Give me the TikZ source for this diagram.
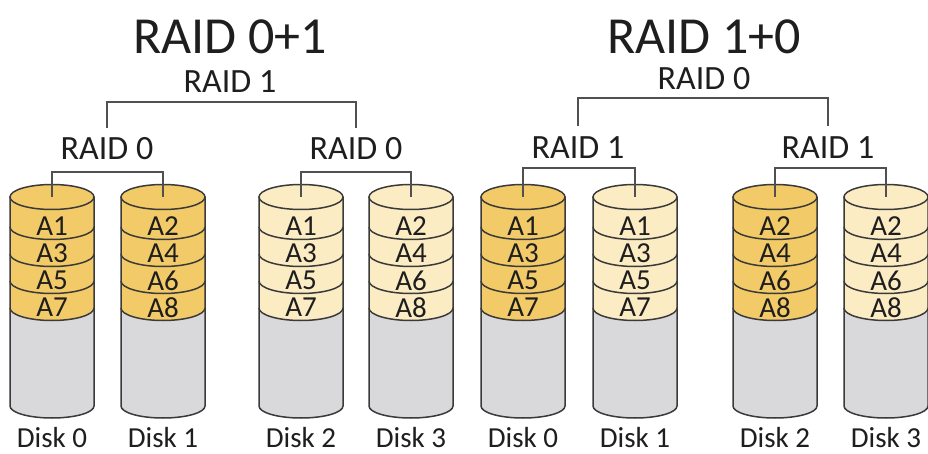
\documentclass[tikz,border=0pt]{standalone}
\usepackage{fontspec}
\setmainfont{Carlito}
\definecolor{gold}{RGB}{243,202,104}
\definecolor{cream}{RGB}{252,236,196}
\definecolor{diskgray}{RGB}{217,217,219}
\definecolor{diskline}{RGB}{58,58,58}
\definecolor{wire}{RGB}{80,80,80}
\definecolor{ink}{RGB}{30,30,30}

% one cylinder: #1 name, #2 centre x, #3 fill colour, #4 stripe labels
\newcommand\raiddisk[4]{%
  \coordinate (#1) at (#2,197);
  \fill[diskgray] (#2-42,197) -- (#2-42,406)
     arc[start angle=180,end angle=360,x radius=42pt,y radius=12pt] -- (#2+42,197) -- cycle;
  \fill[#3] (#2-42,197) -- (#2-42,308)
     arc[start angle=180,end angle=360,x radius=42pt,y radius=12.5pt] -- (#2+42,197) -- cycle;
  \filldraw[fill=#3,outline] (#2,197) ellipse[x radius=42pt,y radius=12.5pt];
  \foreach \yy in {227,254,281,308}
    \draw[outline] (#2-42,\yy) arc[start angle=180,end angle=360,x radius=42pt,y radius=12.5pt];
  \draw[outline] (#2-42,197) -- (#2-42,406)
     arc[start angle=180,end angle=360,x radius=42pt,y radius=12pt] -- (#2+42,197);
  \foreach \t [count=\i] in {#4}
    \node[cell] (#1-\i) at (#2,199.5+27*\i) {\t};
}

\begin{document}
\begin{tikzpicture}[x=1pt,y=-1pt,
  outline/.style={draw=diskline,line width=1.5pt},
  cell/.style={inner sep=0pt,text=ink,font=\fontsize{29}{30}\selectfont},
  title/.style={inner sep=0pt,text=ink,font=\fontsize{52}{56}\selectfont},
  level/.style={inner sep=0pt,text=ink,font=\fontsize{34}{36}\selectfont},
  disklabel/.style={inner sep=0pt,text=ink,font=\fontsize{29}{31}\selectfont},
  bracket/.style={draw=wire,line width=1.5pt}]
\useasboundingbox (0,0) rectangle (928,454);
\fill[white] (0,0) rectangle (928,454);

% ---------- RAID 0+1 ----------
\node[title] (t01) at (230,37) {RAID 0+1};
\node[level] (l01top) at (230,82) {RAID 1};
\node[level] (l01a) at (107,149) {RAID 0};
\node[level] (l01b) at (356,149) {RAID 0};

\raiddisk{a0}{52}{gold}{A1,A3,A5,A7}
\raiddisk{a1}{163}{gold}{A2,A4,A6,A8}
\raiddisk{a2}{301}{cream}{A1,A3,A5,A7}
\raiddisk{a3}{411}{cream}{A2,A4,A6,A8}

\coordinate (a01) at (107,172);
\coordinate (a23) at (356,172);
\coordinate (atop) at (230,102);
\draw[bracket] (a0) |- (a01) -| (a1);
\draw[bracket] (a2) |- (a23) -| (a3);
\draw[bracket] ([yshift=21pt]l01a.center) |- (atop) -| ([yshift=21pt]l01b.center);

\node[disklabel] (n0) at (52,438) {Disk 0};
\node[disklabel] (n1) at (163,438) {Disk 1};
\node[disklabel] (n2) at (301,438) {Disk 2};
\node[disklabel] (n3) at (411,438) {Disk 3};

% ---------- RAID 1+0 ----------
\node[title] (t10) at (704,37) {RAID 1+0};
\node[level] (l10top) at (704,79) {RAID 0};
\node[level] (l10a) at (578,148) {RAID 1};
\node[level] (l10b) at (828,148) {RAID 1};

\raiddisk{b0}{523}{gold}{A1,A3,A5,A7}
\raiddisk{b1}{635}{cream}{A1,A3,A5,A7}
\raiddisk{b2}{775}{gold}{A2,A4,A6,A8}
\raiddisk{b3}{886}{cream}{A2,A4,A6,A8}

\coordinate (b01) at (578,168);
\coordinate (b23) at (828,168);
\coordinate (btop) at (704,98);
\draw[bracket] (b0) |- (b01) -| (b1);
\draw[bracket] (b2) |- (b23) -| (b3);
\draw[bracket] ([yshift=22pt]l10a.center) |- (btop) -| ([yshift=22pt]l10b.center);

\node[disklabel] (m0) at (523,438) {Disk 0};
\node[disklabel] (m1) at (635,438) {Disk 1};
\node[disklabel] (m2) at (775,438) {Disk 2};
\node[disklabel] (m3) at (886,438) {Disk 3};
\end{tikzpicture}
\end{document}
